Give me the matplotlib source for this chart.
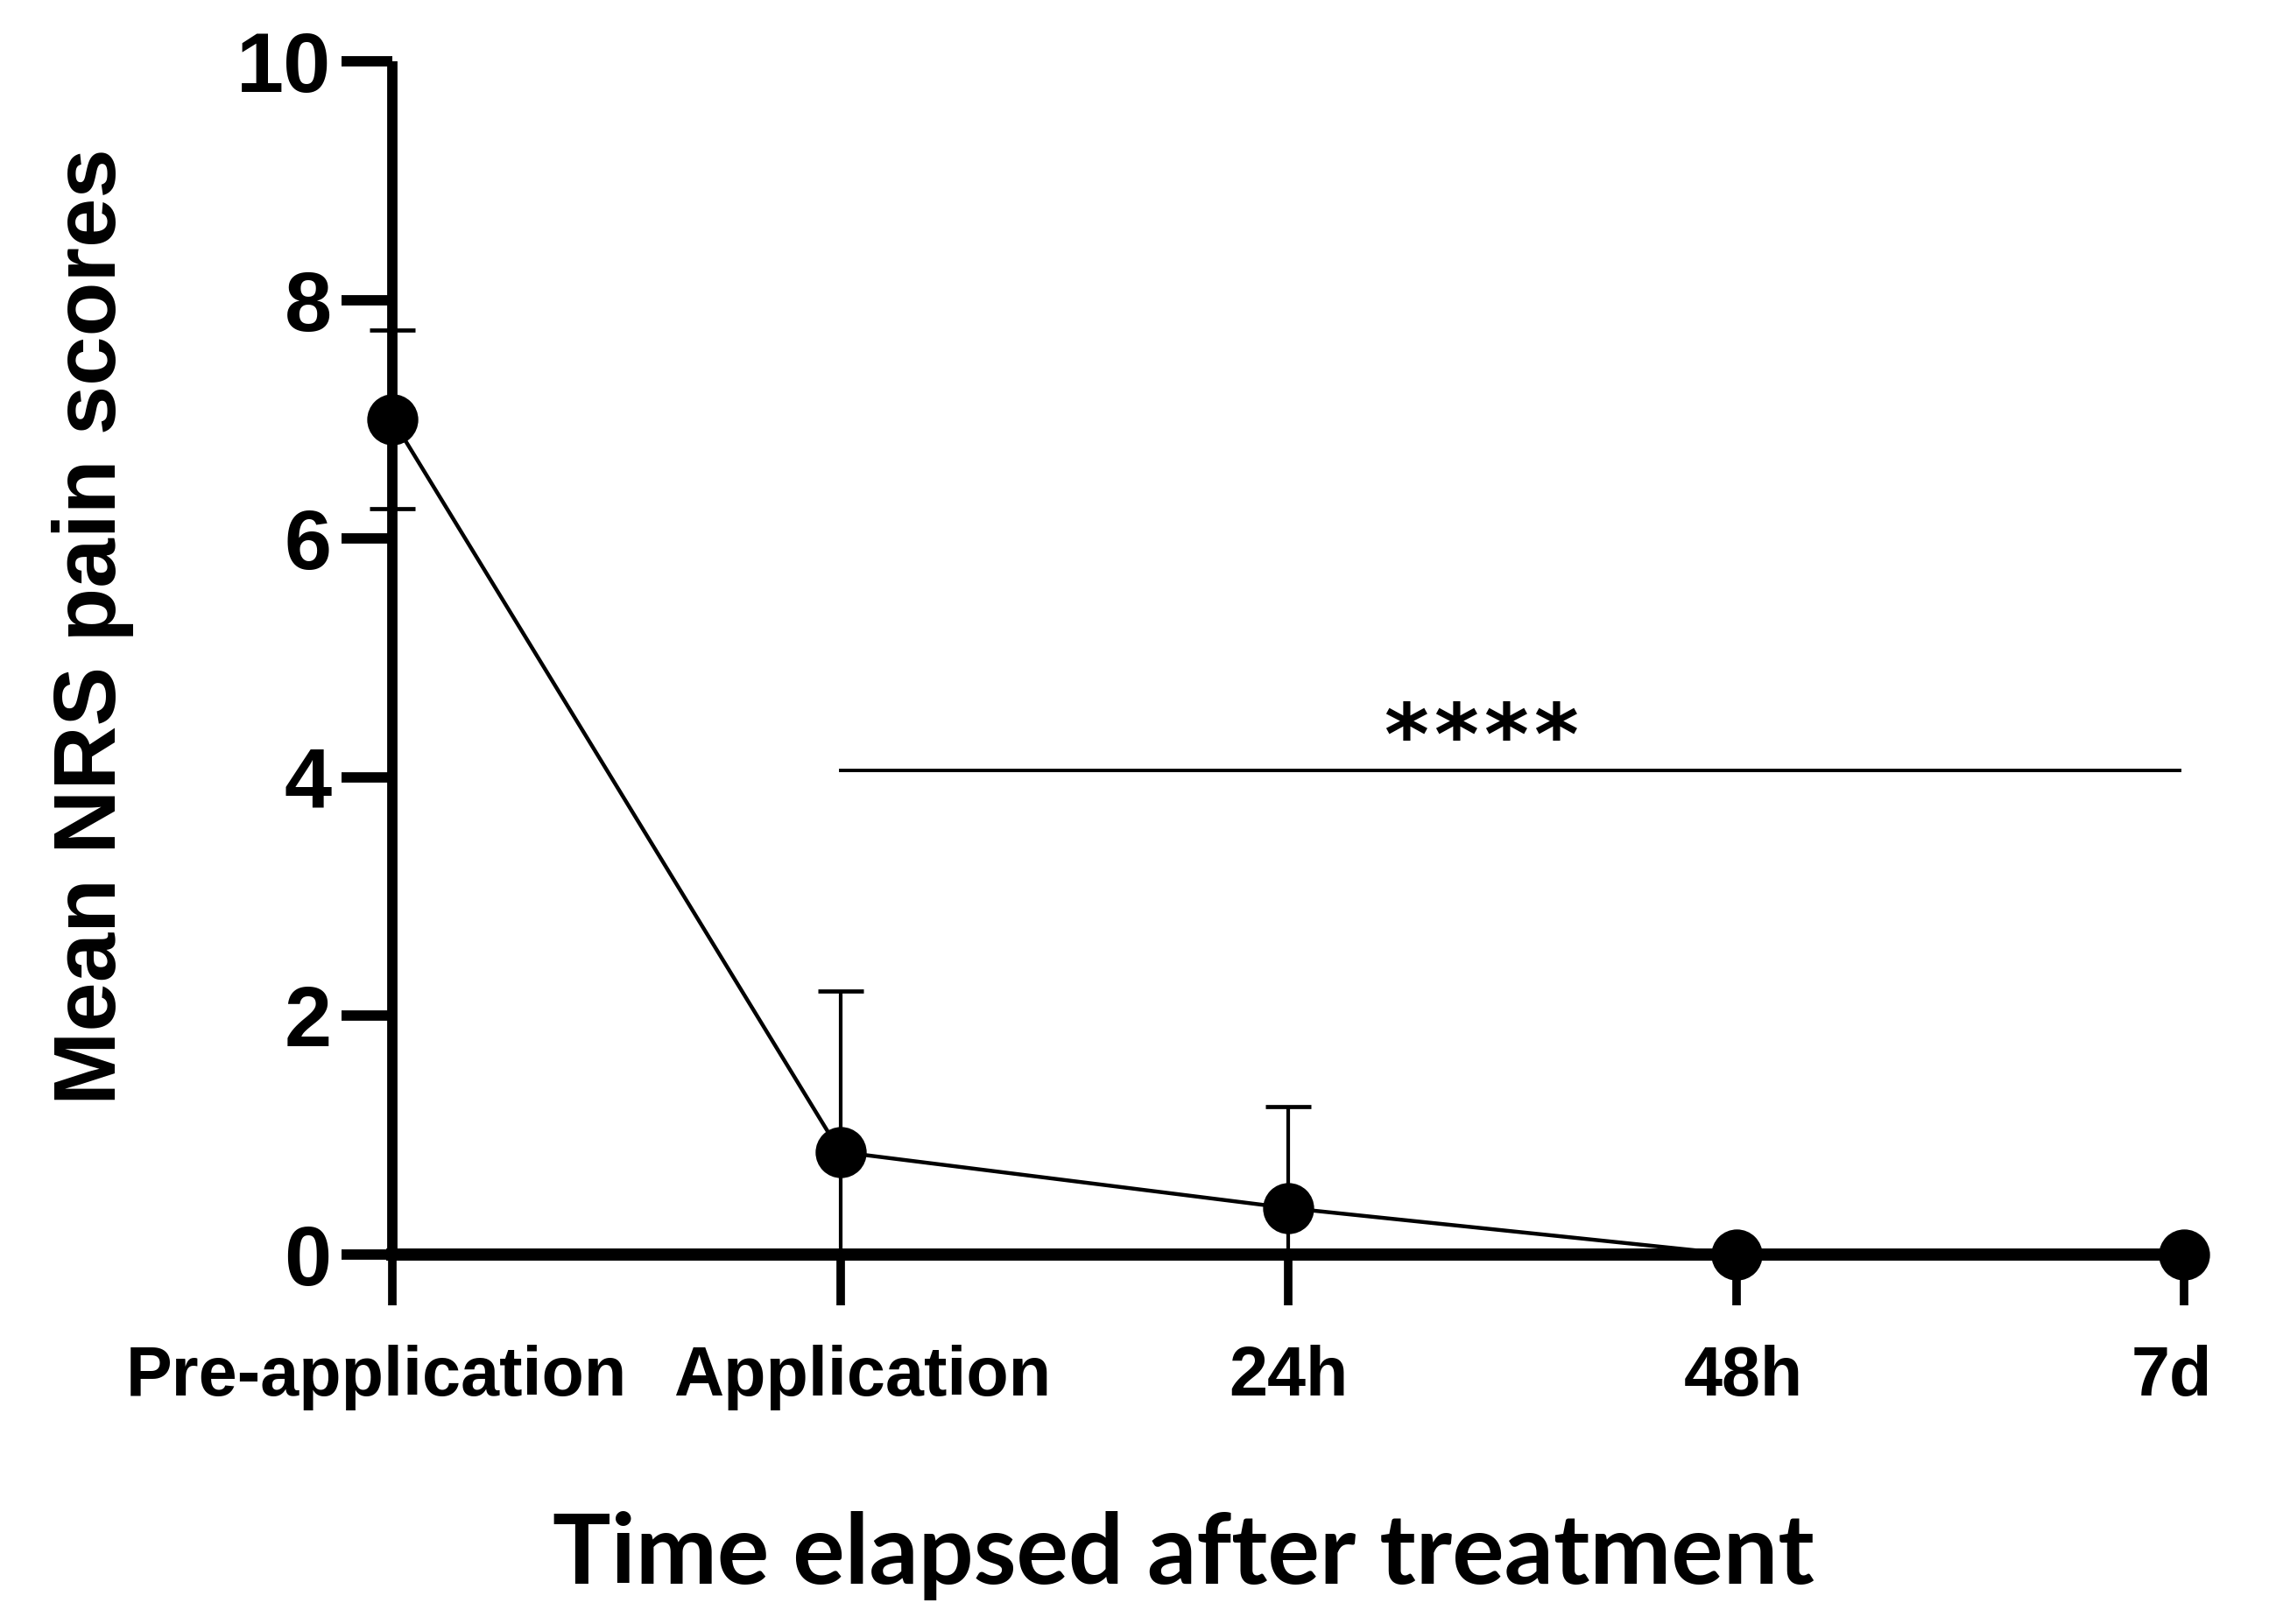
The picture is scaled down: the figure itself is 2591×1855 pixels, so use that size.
import matplotlib
matplotlib.use('Agg')
import matplotlib.pyplot as plt
import matplotlib.transforms as mtransforms
import numpy as np

# values
timepoints = ['Pre-application', 'Application', '24h', '48h', '7d']
mean_nrs = [7.0, 0.86, 0.39, 0.0, 0.0]
sd_nrs = [0.75, 1.35, 0.85, 0.0, 0.0]
sig_span = [1, 3.99]
sig_level = 4.06
sig_label = '****'

W, H, DPI = 2591, 1855, 100
fig = plt.figure(figsize=(W / DPI, H / DPI), dpi=DPI)
ax = fig.add_axes([448 / W, 1 - 1433 / H, (2494 - 448) / W, (1433 - 70) / H])

x = np.arange(len(timepoints))
mean = np.array(mean_nrs)
sd = np.array(sd_nrs)
lower = np.minimum(sd, mean)  # lower bar stops at zero

ax.errorbar(x, mean, yerr=[lower, sd], fmt='none', ecolor='black',
            elinewidth=3, capsize=19, capthick=3.4, clip_on=False, zorder=3)
ax.plot(x, mean, color='black', lw=3.2, marker='o', markersize=41,
        clip_on=False, zorder=4)

ax.plot(sig_span, [sig_level, sig_level], color='black', lw=2.8, clip_on=False)
# stars spaced out like the original
n = len(sig_label)
for i, star in enumerate(sig_label):
    ax.annotate(star, (2.43, sig_level + 0.24), xytext=((i - (n - 1) / 2) * 41, 0),
                textcoords='offset points', ha='center', va='center',
                fontsize=70, fontweight='bold', family='DejaVu Sans')

ax.set_xlim(0, 4)
ax.set_ylim(0, 10)
ax.set_yticks([0, 2, 4, 6, 8, 10])
ax.set_xticks(x)
ax.set_xticklabels(timepoints)

for s in ['top', 'right']:
    ax.spines[s].set_visible(False)
ax.spines['left'].set_linewidth(8.5)
ax.spines['bottom'].set_linewidth(10)
ax.spines['left'].set_capstyle('butt')

ax.tick_params(axis='y', length=42, width=8.5, pad=8, labelsize=70)
ax.tick_params(axis='x', length=42, width=7, pad=32, labelsize=57)
for lab in ax.get_yticklabels() + ax.get_xticklabels():
    lab.set_family('Liberation Sans')
    lab.set_fontweight('bold')

# nudge x labels sideways a bit, as in the original
shifts = [-18, 25, 0, 8, -14]
for lab, dx in zip(ax.get_xticklabels(), shifts):
    offset = mtransforms.ScaledTranslation(dx / DPI, 0, fig.dpi_scale_trans)
    lab.set_transform(lab.get_transform() + offset)

fig.text(106 / W, 1 - 716 / H, 'Mean NRS pain scores', rotation=90,
         ha='center', va='center', fontsize=73, fontweight='bold',
         family='Liberation Sans')
fig.text(1351 / W, 1 - 1777 / H, 'Time elapsed after treatment',
         ha='center', va='center', fontsize=80, fontweight='bold', family='Lato')

fig.savefig('out.png', dpi=DPI, facecolor='white')
